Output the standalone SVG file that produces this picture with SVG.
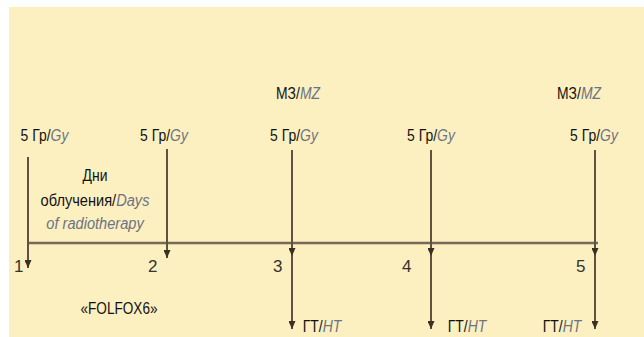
<svg xmlns="http://www.w3.org/2000/svg" width="644" height="337" viewBox="0 0 644 337">
<defs>
<marker id="ah" viewBox="0 0 8 7" markerWidth="8" markerHeight="7" refX="8" refY="3.5" orient="auto" markerUnits="userSpaceOnUse">
<path d="M0,0 L8,3.5 L0,7 z" fill="#3a3024"/>
</marker>
<style>
.arr{stroke:#5e5241;stroke-width:2;fill:none;marker-end:url(#ah)}
.hz{stroke:#76695a;stroke-width:2.5;fill:none}
.t{font-family:"Liberation Sans",Arial,sans-serif;font-size:17px;fill:#121212;text-anchor:middle}
.i{font-style:italic;fill:#6c7383}
.n{font-family:"Liberation Sans","DejaVu Sans",sans-serif;font-size:17px;fill:#333}
</style>
</defs>
<rect x="9" y="7" width="635" height="330" fill="#fcefc0"/>
<g id="connectors">
<line class="hz" x1="28" y1="243" x2="598" y2="243"/>
<path class="arr" d="M28,157 V268"/>
<path class="arr" d="M167,149 V258"/>
<path class="arr" d="M292,150 V256"/>
<path class="arr" d="M292,256 V329"/>
<path class="arr" d="M431,150 V256"/>
<path class="arr" d="M431,256 V329"/>
<path class="arr" d="M595,150 V256"/>
<path class="arr" d="M595,256 V329"/>
</g>
<g id="mz1"><text class="t" transform="translate(298,99) scale(0.82,1)">МЗ/<tspan class="i">MZ</tspan></text></g>
<g id="mz2"><text class="t" transform="translate(579,99) scale(0.82,1)">МЗ/<tspan class="i">MZ</tspan></text></g>
<g id="dose1"><text class="t" transform="translate(44.5,141) scale(0.82,1)">5 Гр/<tspan class="i">Gy</tspan></text></g>
<g id="dose2"><text class="t" transform="translate(164,141) scale(0.82,1)">5 Гр/<tspan class="i">Gy</tspan></text></g>
<g id="dose3"><text class="t" transform="translate(294,141) scale(0.82,1)">5 Гр/<tspan class="i">Gy</tspan></text></g>
<g id="dose4"><text class="t" transform="translate(431,141) scale(0.82,1)">5 Гр/<tspan class="i">Gy</tspan></text></g>
<g id="dose5"><text class="t" transform="translate(594,141) scale(0.82,1)">5 Гр/<tspan class="i">Gy</tspan></text></g>
<g id="days-label">
<text class="t" transform="translate(95,181) scale(0.82,1)">Дни</text>
<text class="t" transform="translate(95,206) scale(0.86,1)">облучения/<tspan class="i">Days</tspan></text>
<text class="t i" transform="translate(95,229) scale(0.86,1)">of radiotherapy</text>
</g>
<g id="day1"><text class="n" x="14" y="272">1</text></g>
<g id="day2"><text class="n" x="148" y="272">2</text></g>
<g id="day3"><text class="n" x="273" y="272">3</text></g>
<g id="day4"><text class="n" x="402" y="272">4</text></g>
<g id="day5"><text class="n" x="576" y="272">5</text></g>
<g id="folfox"><text class="t" transform="translate(119,314) scale(0.8,1)">«FOLFOX6»</text></g>
<g id="ht1"><text class="t" transform="translate(322,332) scale(0.82,1)">ГТ/<tspan class="i">HT</tspan></text></g>
<g id="ht2"><text class="t" transform="translate(467,332) scale(0.82,1)">ГТ/<tspan class="i">HT</tspan></text></g>
<g id="ht3"><text class="t" transform="translate(562,332) scale(0.82,1)">ГТ/<tspan class="i">HT</tspan></text></g>
</svg>
